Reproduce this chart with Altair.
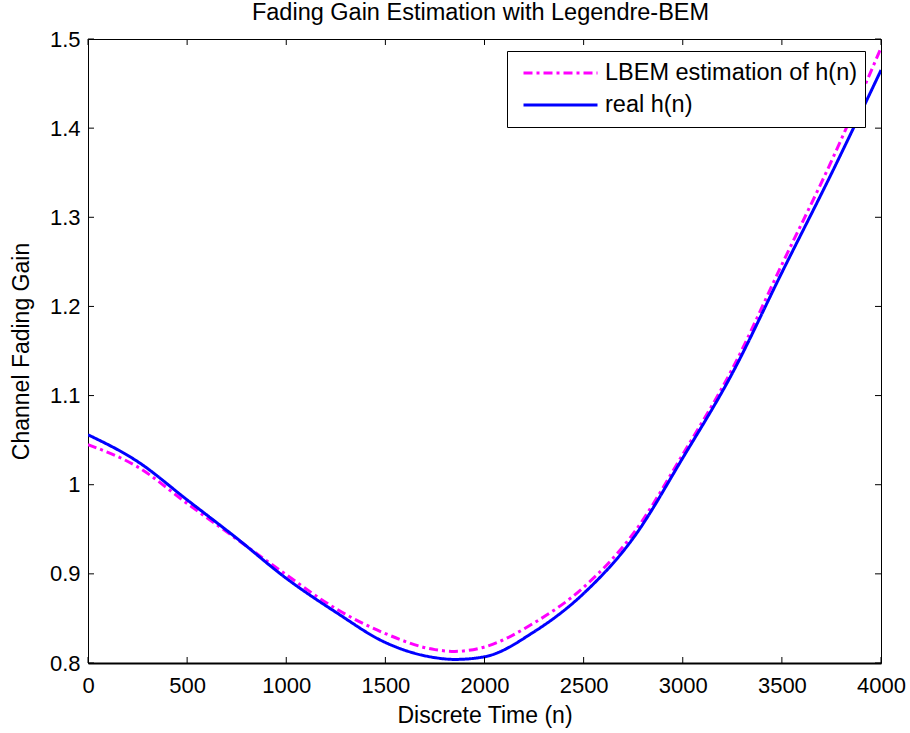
import altair as alt
import pandas as pd

# ---- data ----
n_values = [0, 250, 500, 750, 1000, 1250, 1500, 1750, 1850, 2000, 2250, 2500,
            2750, 3000, 3250, 3500, 3750, 4000]
real_h = [1.056, 1.026, 0.983, 0.940, 0.895, 0.857, 0.823, 0.806, 0.804, 0.807,
          0.835, 0.878, 0.940, 1.030, 1.125, 1.238, 1.349, 1.465]
lbem_h = [1.045, 1.020, 0.979, 0.939, 0.899, 0.861, 0.833, 0.815, 0.813, 0.818,
          0.845, 0.885, 0.945, 1.034, 1.130, 1.247, 1.363, 1.490]
series_names = ["LBEM estimation of h(n)", "real h(n)"]
x_ticks = [0, 500, 1000, 1500, 2000, 2500, 3000, 3500, 4000]
y_ticks = [0.8, 0.9, 1.0, 1.1, 1.2, 1.3, 1.4, 1.5]
chart_title = ["Fading Gain Estimation with Legendre-BEM"]

W, H = 793, 624
FONT = "Liberation Sans"

df = pd.DataFrame({
    "n": n_values * 2,
    "h": lbem_h + real_h,
    "series": [series_names[0]] * len(n_values) + [series_names[1]] * len(n_values),
})
xt = pd.DataFrame({"v": x_ticks})
yt = pd.DataFrame({"v": y_ticks})
tdf = pd.DataFrame({"t": chart_title})

xscale = alt.Scale(domain=[0, 4000], nice=False, zero=False)
yscale = alt.Scale(domain=[0.8, 1.5], nice=False, zero=False)

legend = alt.Legend(
    title=None, orient="none", legendX=419, legendY=12,
    symbolType="stroke", symbolStrokeWidth=3, symbolSize=5476,
    symbolOffset=8, clipHeight=30, rowPadding=2,
    labelFontSize=23.5, labelFont=FONT, labelColor="black",
    labelOffset=6, labelLimit=400, padding=7,
    strokeColor="black", fillColor="white", cornerRadius=0,
)
color = alt.Color(
    "series:N",
    scale=alt.Scale(domain=series_names, range=["#ff00ff", "#0000ff"]),
    legend=legend,
)
dash = alt.StrokeDash(
    "series:N",
    scale=alt.Scale(domain=series_names, range=[[9, 4, 3, 4], [1, 0]]),
    legend=legend,
)

xaxis = alt.Axis(values=x_ticks, title="Discrete Time (n)", ticks=False,
                 labelPadding=12, titlePadding=8, grid=False, format="d",
                 domainWidth=2, labelFlush=False)
yaxis = alt.Axis(values=y_ticks, title="Channel Fading Gain", ticks=False,
                 labelPadding=8, titlePadding=16, grid=False, format=".1~f",
                 labelFlush=False)


def line_layer(name):
    return alt.Chart(df).transform_filter(
        alt.datum.series == name
    ).mark_line(strokeWidth=3, interpolate="monotone", clip=True).encode(
        x=alt.X("n:Q", scale=xscale, axis=xaxis),
        y=alt.Y("h:Q", scale=yscale, axis=yaxis),
        color=color,
        strokeDash=dash,
    )


bottom_ticks = alt.Chart(xt).mark_rule(color="black", strokeWidth=1).encode(
    x=alt.X("v:Q", scale=xscale), y=alt.value(H), y2=alt.value(H - 6))
top_ticks = alt.Chart(xt).mark_rule(color="black", strokeWidth=1).encode(
    x=alt.X("v:Q", scale=xscale), y=alt.value(0), y2=alt.value(6))
left_ticks = alt.Chart(yt).mark_rule(color="black", strokeWidth=1).encode(
    y=alt.Y("v:Q", scale=yscale), x=alt.value(0), x2=alt.value(6))
right_ticks = alt.Chart(yt).mark_rule(color="black", strokeWidth=1).encode(
    y=alt.Y("v:Q", scale=yscale), x=alt.value(W), x2=alt.value(W - 6))

title_text = alt.Chart(tdf).mark_text(
    font=FONT, fontSize=23.5, color="black", align="center",
    baseline="alphabetic", clip=False,
).encode(text="t:N", x=alt.value(W / 2 - 4), y=alt.value(-19))

chart = alt.layer(
    line_layer(series_names[0]), line_layer(series_names[1]),
    bottom_ticks, top_ticks, left_ticks, right_ticks, title_text,
).resolve_axis(x="shared", y="shared").properties(
    width=W, height=H,
    autosize=alt.AutoSizeParams(type="none"),
    padding={"left": 88, "top": 39, "right": 29, "bottom": 70},
    background="white",
).configure_view(
    stroke="black", strokeWidth=1
).configure_axis(
    domainColor="black", domainWidth=1, labelFont=FONT, labelFontSize=22,
    labelColor="black", titleFont=FONT, titleFontSize=23, titleColor="black",
    titleFontWeight="normal",
)

chart.save("out.html", embed_options={"renderer": "svg", "actions": False})
